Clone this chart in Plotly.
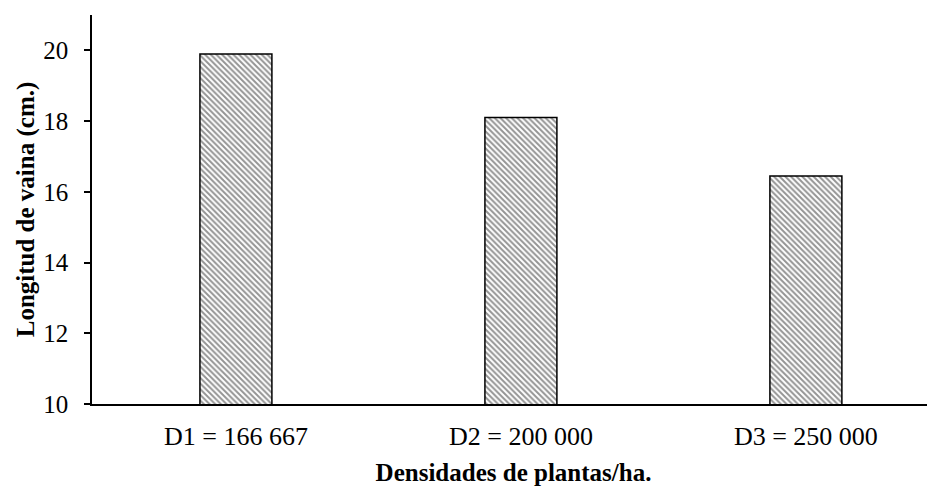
import plotly.graph_objects as go

categories = ["D1 = 166 667", "D2 = 200 000", "D3 = 250 000"]
values = [19.9, 18.1, 16.45]
positions = [0, 1, 2]

fig = go.Figure()
fig.add_trace(go.Bar(
    x=positions, y=values, base=0, width=0.2526,
    marker=dict(
        color="white",
        line=dict(color="black", width=1.5),
        pattern=dict(shape="\\", size=4, solidity=0.5, fgcolor="#2a2a2a", bgcolor="white"),
    ),
))

# The page body has an 8px default margin, so the figure is sized and offset to compensate.
font = dict(family="Liberation Serif, Times New Roman, serif", color="black")
fig.update_layout(
    width=927, height=478,
    margin=dict(l=84, r=0, t=7, b=82),
    plot_bgcolor="white", paper_bgcolor="white",
    showlegend=False,
    font=dict(size=25, **font),
    xaxis=dict(
        range=[-0.505, 2.453], automargin=False,
        tickmode="array", tickvals=positions, ticktext=categories,
        showline=True, linecolor="black", linewidth=2,
        ticks="", showgrid=False, zeroline=False,
        tickfont=dict(size=26, **font), ticklabelstandoff=8,
        title=dict(text="<b>Densidades de plantas/ha.</b>", font=dict(size=25, **font), standoff=21),
    ),
    yaxis=dict(
        range=[10, 21], automargin=False,
        tickmode="array", tickvals=[10, 12, 14, 16, 18, 20],
        showline=True, linecolor="black", linewidth=1.5,
        ticks="outside", ticklen=6, tickwidth=1.5, tickcolor="black",
        showgrid=False, zeroline=False,
        tickfont=dict(size=25, **font), ticklabelstandoff=11,
        title=dict(text="<b>Longitud de vaina (cm.)</b>", font=dict(size=25, **font), standoff=2),
    ),
)
fig.write_html("out.html")
